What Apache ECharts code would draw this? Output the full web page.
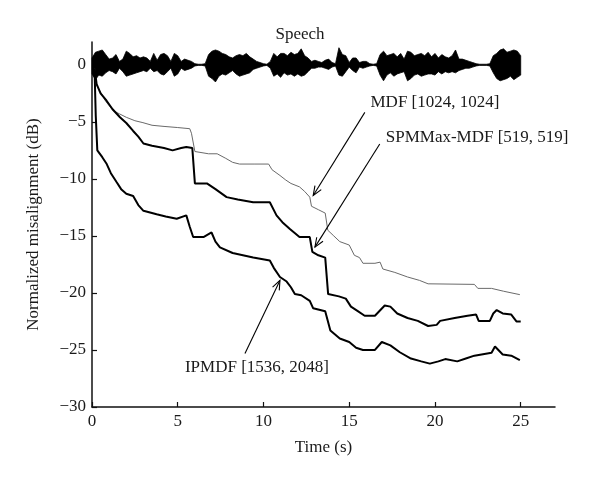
<!DOCTYPE html>
<html><head><meta charset="utf-8">
<script src="https://cdn.jsdelivr.net/npm/echarts@6.0.0/dist/echarts.min.js"></script>
<style>html,body{margin:0;padding:0;background:#fff}#c{width:600px;height:481px}</style>
</head><body><div id="c"></div>
<script>
const xTicks = [0, 5, 10, 15, 20, 25];
const yTicks = [-30, -25, -20, -15, -10, -5, 0];

const mdf = [[0.15,-0.3],[0.27,-1.8],[0.5,-2.4],[0.8,-3.2],[1.22,-4.0],[1.6,-4.3],[2.0,-4.6],[2.5,-4.9],[2.97,-5.07],[3.5,-5.3],[4.2,-5.4],[5.0,-5.5],[5.7,-5.6],[5.8,-6.0],[6.0,-7.6],[6.1,-7.7],[6.8,-7.8],[7.3,-7.8],[7.8,-8.2],[8.2,-8.55],[8.6,-8.7],[9.5,-8.7],[10.3,-8.7],[10.5,-9.2],[10.96,-9.7],[11.3,-10.1],[11.6,-10.4],[12.1,-10.7],[12.4,-11.1],[12.7,-11.6],[12.8,-12.4],[13.2,-12.7],[13.6,-13.0],[13.75,-14.5],[14.1,-15.0],[14.45,-15.5],[15.0,-15.8],[15.3,-16.7],[15.6,-16.9],[15.8,-17.4],[16.5,-17.4],[16.8,-17.3],[16.96,-17.9],[17.66,-18.2],[18.4,-18.6],[19.1,-18.9],[19.6,-19.2],[22.3,-19.25],[22.5,-19.6],[23.3,-19.6],[24.0,-19.85],[24.95,-20.15]];

const spmmaxMdf = [[0.15,-0.3],[0.27,-1.7],[0.5,-2.5],[0.85,-3.15],[1.2,-3.9],[1.63,-4.6],[2.0,-5.1],[2.4,-5.8],[2.7,-6.3],[3.0,-6.9],[3.5,-7.1],[4.2,-7.3],[4.7,-7.5],[5.2,-7.3],[5.5,-7.2],[5.85,-7.3],[6.0,-10.4],[6.7,-10.4],[7.2,-10.9],[7.85,-11.6],[8.5,-11.8],[9.4,-12.05],[10.37,-12.05],[10.76,-13.2],[11.1,-13.8],[11.54,-14.4],[12.1,-15.1],[12.7,-15.1],[12.85,-16.4],[13.2,-16.7],[13.6,-16.9],[13.77,-20.1],[14.4,-20.3],[14.8,-20.5],[15.1,-21.2],[15.5,-21.6],[15.9,-22.0],[16.5,-22.0],[17.07,-21.1],[17.4,-21.2],[17.8,-21.8],[18.4,-22.2],[19.0,-22.45],[19.6,-22.9],[20.1,-22.8],[20.3,-22.45],[21.15,-22.2],[21.9,-22.0],[22.4,-21.9],[22.55,-22.45],[23.2,-22.45],[23.4,-21.8],[23.6,-21.5],[23.95,-21.8],[24.45,-21.9],[24.75,-22.5],[25.0,-22.5]];

const ipmdf = [[0.15,-0.5],[0.22,-4.5],[0.31,-7.5],[0.6,-8.1],[0.86,-8.7],[1.1,-9.5],[1.44,-10.3],[1.7,-10.9],[2.0,-11.3],[2.4,-11.5],[2.7,-12.3],[3.0,-12.8],[3.77,-13.1],[4.3,-13.3],[4.94,-13.5],[5.5,-13.2],[5.7,-14.2],[5.9,-15.1],[6.5,-15.1],[6.97,-14.7],[7.2,-15.5],[7.46,-16.0],[8.2,-16.5],[9.4,-16.9],[10.37,-17.15],[10.6,-17.8],[10.96,-18.6],[11.35,-19.0],[11.6,-19.5],[11.83,-20.1],[12.2,-20.2],[12.7,-20.7],[12.9,-21.35],[13.6,-21.6],[13.9,-23.3],[14.45,-24.0],[15.0,-24.3],[15.4,-24.8],[15.8,-25.0],[16.5,-25.0],[16.9,-24.3],[17.4,-24.6],[17.95,-25.2],[18.6,-25.75],[19.2,-26.0],[19.7,-26.2],[20.2,-26.0],[20.6,-25.8],[21.3,-26.0],[21.8,-25.75],[22.3,-25.5],[23.3,-25.25],[23.5,-24.7],[23.95,-25.4],[24.45,-25.5],[24.95,-25.9]];

// speech envelope: [time, upper, lower]
const speech = [[0.0,0.6,-0.8],[0.2,1.1,-1.3],[0.4,1.2,-0.9],[0.6,1.3,-1.0],[0.8,0.9,-0.7],[1.0,0.5,-0.5],[1.2,0.6,-0.6],[1.4,0.9,-0.8],[1.6,0.3,-0.3],[1.8,0.5,-0.6],[2.0,1.2,-1.0],[2.2,1.0,-0.9],[2.4,0.7,-0.8],[2.6,0.8,-0.7],[2.8,0.6,-0.6],[3.0,0.7,-0.5],[3.2,0.6,-0.6],[3.4,0.3,-0.3],[3.6,1.0,-0.6],[3.8,0.4,-0.5],[4.0,0.9,-0.8],[4.2,1.0,-0.9],[4.4,0.8,-0.6],[4.6,0.3,-0.3],[4.8,1.0,-1.0],[5.0,0.8,-0.8],[5.2,0.3,-0.3],[5.4,0.5,-0.5],[5.6,0.4,-0.4],[5.8,0.3,-0.3],[6.0,0.1,-0.1],[6.2,0.05,-0.05],[6.4,0.05,-0.05],[6.6,0.1,-0.1],[6.8,0.9,-1.0],[7.0,1.2,-1.2],[7.2,1.3,-1.5],[7.4,1.2,-1.0],[7.6,1.0,-0.8],[7.8,0.9,-0.9],[8.0,0.7,-0.7],[8.2,0.6,-0.5],[8.4,0.8,-0.8],[8.6,0.9,-1.0],[8.8,0.8,-0.9],[9.0,1.0,-0.8],[9.2,0.7,-0.7],[9.4,0.5,-0.4],[9.6,0.3,-0.3],[9.8,0.2,-0.2],[10.0,0.1,-0.1],[10.2,0.05,-0.05],[10.4,0.3,-0.3],[10.6,1.0,-1.0],[10.8,0.7,-0.8],[11.0,1.0,-1.1],[11.2,1.0,-0.7],[11.4,0.8,-0.9],[11.6,1.1,-0.8],[11.8,0.9,-1.0],[12.0,1.0,-0.8],[12.2,1.4,-1.0],[12.4,0.8,-0.9],[12.6,0.6,-0.6],[12.8,0.3,-0.3],[13.0,0.4,-0.3],[13.2,0.3,-0.2],[13.4,0.2,-0.2],[13.6,0.4,-0.3],[13.8,0.5,-0.4],[14.0,0.2,-0.2],[14.2,0.1,-0.1],[14.4,1.5,-0.9],[14.6,0.9,-1.0],[14.8,0.8,-0.6],[15.0,0.2,-0.2],[15.2,0.6,-0.5],[15.4,0.6,-0.7],[15.6,0.2,-0.2],[15.8,0.3,-0.3],[16.0,0.3,-0.2],[16.2,0.1,-0.1],[16.4,0.05,-0.05],[16.6,0.1,-0.1],[16.8,0.9,-0.9],[17.0,1.2,-1.4],[17.2,0.8,-0.9],[17.4,0.9,-0.7],[17.6,1.0,-1.0],[17.8,0.7,-0.8],[18.0,1.0,-0.7],[18.2,0.5,-0.6],[18.4,1.2,-1.4],[18.6,1.1,-1.2],[18.8,0.8,-0.9],[19.0,0.9,-0.8],[19.2,1.0,-1.0],[19.4,0.8,-0.9],[19.6,1.1,-0.8],[19.8,0.7,-0.8],[20.0,1.0,-0.9],[20.2,0.6,-0.6],[20.4,0.9,-0.8],[20.6,0.7,-0.6],[20.8,0.6,-0.7],[21.0,0.8,-0.6],[21.2,1.3,-0.7],[21.4,0.5,-0.5],[21.6,0.5,-0.4],[21.8,0.4,-0.3],[22.0,0.3,-0.3],[22.2,0.2,-0.2],[22.4,0.1,-0.1],[22.6,0.05,-0.05],[22.8,0.05,-0.05],[23.0,0.05,-0.05],[23.2,0.1,-0.1],[23.4,0.8,-0.7],[23.6,1.0,-1.2],[23.8,1.3,-1.4],[24.0,1.4,-1.3],[24.2,1.1,-1.2],[24.4,1.2,-1.0],[24.6,1.3,-1.3],[24.8,1.2,-1.1],[25.0,0.8,-0.9]];

// annotation arrows: [fromX, fromY, toX, toY]
const arrows = [[15.91,-4.17,12.9,-11.46],[16.78,-6.94,13.0,-15.98],[8.92,-25.3,10.96,-18.9]];
// annotation labels: anchor (left, middle) in data coords
const labelTexts = ['MDF [1024, 1024]', 'SPMMax-MDF [519, 519]', 'IPMDF [1536, 2048]'];
const labelPos = [[16.24,-3.3],[17.13,-6.36],[5.42,-26.5]];

const FONT = '"Liberation Serif", "Times New Roman", serif';
const TXT = '#1a1a1a';

const chart = echarts.init(document.getElementById('c'), null, {renderer: 'canvas'});
const minus = v => String(v).replace('-', '\u2212');

chart.setOption({
  animation: false,
  backgroundColor: '#fff',
  title: {text: 'Speech', left: 'center', top: 21,
    textStyle: {fontFamily: FONT, fontSize: 17, fontWeight: 'normal', color: TXT}},
  grid: {left: 92, right: 45, top: 42, bottom: 74},
  xAxis: {
    type: 'value', min: 0, max: 27,
    name: 'Time (s)', nameLocation: 'middle', nameGap: 32,
    nameTextStyle: {fontFamily: FONT, fontSize: 17, color: TXT},
    axisLine: {onZero: false, lineStyle: {color: '#111', width: 1.5}},
    axisTick: {inside: true, length: 5, customValues: xTicks, lineStyle: {color: '#111', width: 1.2}},
    axisLabel: {customValues: xTicks, margin: 6, fontFamily: FONT, fontSize: 17, color: TXT},
    splitLine: {show: false}
  },
  yAxis: {
    type: 'value', min: -30, max: 2,
    name: 'Normalized misalignment (dB)', nameLocation: 'middle', nameGap: 50,
    nameTextStyle: {fontFamily: FONT, fontSize: 17, color: TXT},
    axisLine: {show: true, onZero: false, lineStyle: {color: '#111', width: 1.5}},
    axisTick: {show: true, inside: true, length: 5, customValues: yTicks, lineStyle: {color: '#111', width: 1.2}},
    axisLabel: {customValues: yTicks, margin: 6, fontFamily: FONT, fontSize: 17, color: TXT, formatter: minus},
    splitLine: {show: false}
  },
  series: [
    {
      type: 'custom', name: 'Speech', clip: false, z: 2,
      data: [[0, 0]], encode: {x: 0, y: 1},
      renderItem: (params, api) => {
        const pts = [];
        speech.forEach(r => pts.push(api.coord([r[0], r[1]])));
        for (let i = speech.length - 1; i >= 0; i--) pts.push(api.coord([speech[i][0], speech[i][2]]));
        return {type: 'polygon', shape: {points: pts}, style: {fill: '#000', stroke: '#000', lineWidth: 0.8}};
      }
    },
    {type: 'line', name: 'MDF', data: mdf, showSymbol: false, z: 3,
      lineStyle: {color: '#6a6a6a', width: 1}},
    {type: 'line', name: 'SPMMax-MDF', data: spmmaxMdf, showSymbol: false, z: 3,
      lineStyle: {color: '#000', width: 2}},
    {type: 'line', name: 'IPMDF', data: ipmdf, showSymbol: false, z: 3,
      lineStyle: {color: '#000', width: 2}},
    {
      type: 'custom', name: 'arrows', clip: false, z: 4,
      data: arrows, encode: {x: [0, 2], y: [1, 3]},
      renderItem: (params, api) => {
        const a = api.coord([api.value(0), api.value(1)]);
        const b = api.coord([api.value(2), api.value(3)]);
        const ang = Math.atan2(b[1] - a[1], b[0] - a[0]);
        const L = 10, w = 0.38;
        const h1 = [b[0] - L * Math.cos(ang - w), b[1] - L * Math.sin(ang - w)];
        const h2 = [b[0] - L * Math.cos(ang + w), b[1] - L * Math.sin(ang + w)];
        return {type: 'group', children: [
          {type: 'line', shape: {x1: a[0], y1: a[1], x2: b[0], y2: b[1]}, style: {stroke: '#000', lineWidth: 1.1}},
          {type: 'polyline', shape: {points: [h1, b, h2]}, style: {stroke: '#000', lineWidth: 1.1, fill: null}}
        ]};
      }
    },
    {
      type: 'custom', name: 'labels', clip: false, z: 4,
      data: labelPos, encode: {x: 0, y: 1},
      renderItem: (params, api) => {
        const p = api.coord([api.value(0), api.value(1)]);
        return {type: 'text', x: p[0], y: p[1], style: {
          text: labelTexts[params.dataIndex], fill: TXT,
          font: '17px ' + FONT, align: 'left', verticalAlign: 'middle'}};
      }
    }
  ]
});
</script></body></html>
